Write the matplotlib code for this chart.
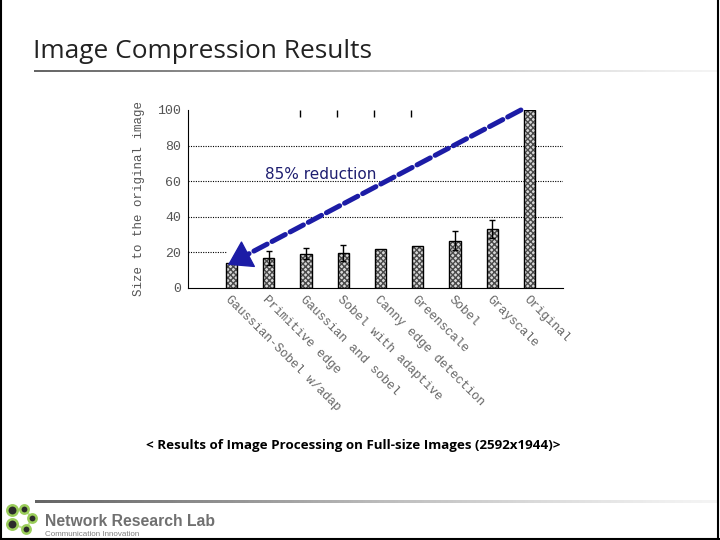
import numpy as np
import matplotlib
matplotlib.use('Agg')
import matplotlib.pyplot as plt
from matplotlib.patches import FancyArrowPatch

# data
methods = ['Gaussian-Sobel w/adap', 'Primitive edge', 'Gaussian and sobel',
           'Sobel with adaptive', 'Canny edge detection', 'Greenscale',
           'Sobel', 'Grayscale', 'Original']
sizes = [14.0, 16.8, 19.3, 19.8, 21.9, 23.7, 26.5, 33.3, 100.0]
errors = [0.0, 4.1, 3.0, 4.5, 0.0, 0.0, 5.3, 5.0, 0.0]
yticks = [0, 20, 40, 60, 80, 100]
title = 'Image Compression Results'
caption = '< Results of Image Processing on Full-size Images (2592x1944)>'
note = '85% reduction'

W, H = 720, 540
fig = plt.figure(figsize=(7.2, 5.4), dpi=100)


def fx(px):
    return px / W


def fy(py):
    return 1 - py / H


# slide frame
fig.add_artist(plt.Line2D([fx(1), fx(1)], [0, 1], color='black', lw=1.5))
fig.add_artist(plt.Line2D([fx(718), fx(718)], [0, 1], color='black', lw=1.5))
fig.add_artist(plt.Line2D([0, 1], [fy(539), fy(539)], color='black', lw=1.5))

# gradient rules under title and above footer
grad = np.linspace(0, 1, 256).reshape(1, -1)
for y0, x0 in [(71, 34), (501, 35)]:
    gax = fig.add_axes([fx(x0), fy(y0 + 1.5), fx(718) - fx(x0), 3 / H])
    gax.imshow(grad, aspect='auto', cmap='Greys_r', vmin=-0.55, vmax=1.15)
    gax.axis('off')

fig.text(fx(33), fy(51), title, fontsize=18.9, family='Open Sans',
         color='#222222', ha='left', va='center')

# main chart
ax = fig.add_axes([fx(188), fy(288), fx(563) - fx(188), (288 - 110) / H])
pos = np.arange(len(methods))
ax.bar(pos, sizes, width=0.3, color='#d8d8d8', edgecolor='#4a4a4a',
       hatch='xxxxxx', lw=0)
ax.bar(pos, sizes, width=0.3, color='none', edgecolor='black', lw=1)
err = np.array(errors)
mask = err > 0
ax.errorbar(pos[mask], np.array(sizes)[mask], yerr=err[mask], fmt='none',
            ecolor='black', elinewidth=1, capsize=2.5, capthick=1)

for v in yticks[2:-1]:
    ax.axhline(v, color='black', lw=0.8, ls=(0, (1, 1.2)), zorder=0)
ax.plot([-1.17, pos[0] - 0.15], [yticks[1], yticks[1]], color='black',
        lw=0.8, ls=(0, (1, 1.2)), zorder=0)

ax.set_xlim(-1.17, 8.9)
ax.set_ylim(0, 100)
ax.spines['top'].set_visible(False)
ax.spines['right'].set_visible(False)
ax.set_yticks(yticks)
ax.set_yticklabels([str(t) for t in yticks], family='Liberation Mono',
                   fontsize=9.5, color='#555555')
ax.tick_params(axis='y', length=0, pad=5)
ax.set_xticks(pos)
ax.set_xticklabels(methods, rotation=-45, ha='left', va='top',
                   rotation_mode='anchor', family='Liberation Mono',
                   fontsize=9, color='#666666')
ax.tick_params(axis='x', length=0, pad=4)
ax.set_ylabel('Size to the original image', family='Liberation Mono',
              fontsize=9, color='#555555', labelpad=9)

# stray ticks along the top edge
top = ax.secondary_xaxis('top')
top.set_xticks(pos[2:6] - 0.17)
top.set_xticklabels([])
top.tick_params(direction='in', length=5, width=1)
top.spines['top'].set_visible(False)

# reduction arrow from the original bar down to the smallest one
start = (pos[-1] - 0.23, sizes[-1])
end = (pos[0] - 0.1, sizes[0] - 1)
ax.annotate('', xy=end, xytext=start,
            arrowprops=dict(arrowstyle='-', lw=3.6, color='#1c1ca6',
                            ls=(0, (3, 1.1)), shrinkA=0, shrinkB=8))
frac = 0.07
head_from = (end[0] + (start[0] - end[0]) * frac, end[1] + (start[1] - end[1]) * frac)
ax.add_patch(FancyArrowPatch(head_from, end, arrowstyle='-|>,head_length=7,head_width=4.5',
                             color='#1c1ca6', lw=1, mutation_scale=2.2,
                             shrinkA=0, shrinkB=0))
ax.text(2.4, 64, note, fontsize=11, color='#1e1e70', ha='center',
        va='center', family='DejaVu Sans')

fig.text(fx(353), fy(445), caption, fontsize=9.6, fontweight='bold',
         family='Open Sans', color='black', ha='center', va='center')

# footer logo
nodes = [(11.7, 510), (24, 509), (32.3, 518), (26, 529), (12.3, 524)]
xs = [fx(n[0]) for n in nodes]
ys = [fy(n[1]) for n in nodes]
fig.add_artist(plt.Line2D(xs, ys, color='#c3e29a', lw=1.5))
for i, (nx, ny) in enumerate(nodes):
    fig.add_artist(plt.Line2D([fx(nx)], [fy(ny)], marker='o',
                              markersize=7.5 if i in (0, 4) else 6,
                              markerfacecolor='#2b2b2b', markeredgecolor='#9acd5a',
                              markeredgewidth=1.8))
fig.text(fx(45), fy(522), 'Network Research Lab', fontsize=11.3,
         fontweight='bold', family='Liberation Sans', color='#707070',
         ha='left', va='center')
fig.text(fx(45), fy(534), 'Communication Innovation', fontsize=5.8,
         family='Liberation Sans', color='#808080', ha='left', va='center')

fig.savefig('out.png', dpi=100)
